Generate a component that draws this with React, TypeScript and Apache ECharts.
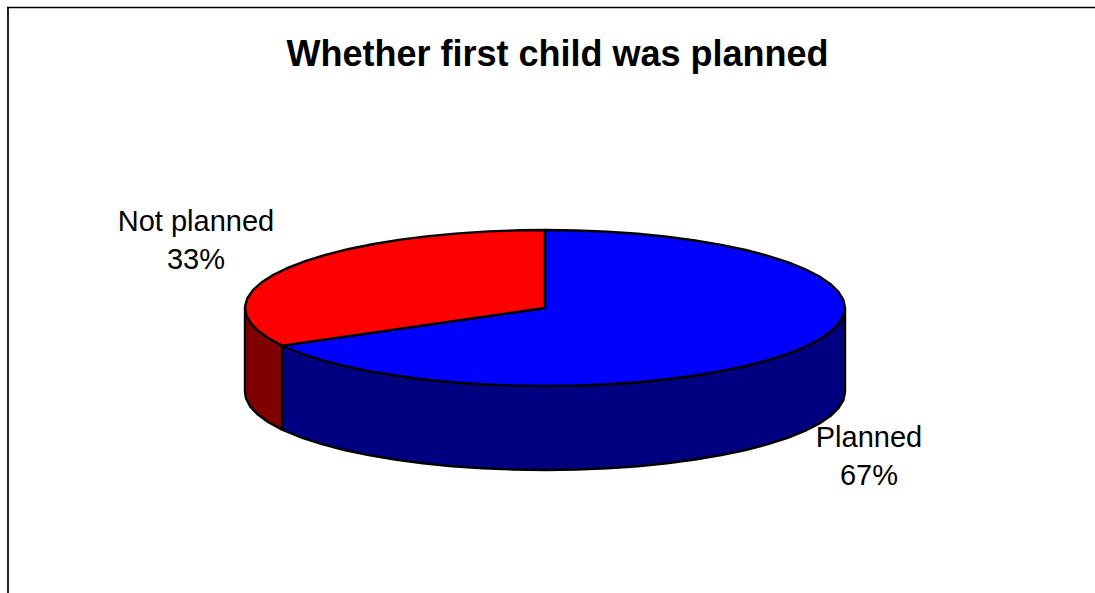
import React, { useEffect, useRef } from "react";
import * as echarts from "echarts";

const titleText = "Whether first child was planned";
const categories = ["Planned", "Not planned"];
const values = [67, 33];
const topColors = ["#0000ff", "#ff0000"];
const sideColors = ["#000080", "#800000"];

const CX = 545, CY = 308, RX = 300, RY = 78, DEPTH = 84;
const LABEL_POS = [[869, 456], [196, 240]];
const STEP = 6;

const pt = (deg: number, dy = 0) => {
  const a = (deg * Math.PI) / 180;
  return [CX + RX * Math.sin(a), CY - RY * Math.cos(a) + dy];
};

const arc = (from: number, to: number, dy = 0) => {
  const pts: number[][] = [];
  for (let d = from; d < to; d += STEP) pts.push(pt(d, dy));
  pts.push(pt(to, dy));
  return pts;
};

const total = values.reduce((a, b) => a + b, 0);

const renderItem = (params: any, api: any) => {
  const i = params.dataIndex;
  let before = 0;
  for (let k = 0; k < i; k++) before += values[k];
  const start = (before / total) * 360;
  const end = ((before + api.value(1)) / total) * 360;
  const children: any[] = [];
  const sFrom = Math.max(start, 90);
  const sTo = Math.min(end, 270);
  if (sTo > sFrom) {
    const rim = arc(sFrom, sTo);
    const low = arc(sFrom, sTo, DEPTH).reverse();
    children.push({
      type: "polygon",
      shape: { points: rim.concat(low) },
      style: { fill: sideColors[i], stroke: "#000", lineWidth: 2.4, lineJoin: "round" },
    });
  }
  children.push({
    type: "polygon",
    shape: { points: [[CX, CY]].concat(arc(start, end)) },
    style: { fill: topColors[i], stroke: "#000", lineWidth: 2.4, lineJoin: "round" },
  });
  const pct = Math.round((api.value(1) / total) * 100);
  children.push({
    type: "text",
    x: LABEL_POS[i][0],
    y: LABEL_POS[i][1],
    style: {
      text: `${categories[i]}\n${pct}%`,
      fontFamily: "Liberation Sans",
      fontSize: 29,
      lineHeight: 38,
      fill: "#000",
      align: "center",
      verticalAlign: "middle",
    },
  });
  return { type: "group", children };
};

export default function App() {
  const ref = useRef<HTMLDivElement>(null);
  useEffect(() => {
    document.body.style.margin = "0";
    const chart = echarts.init(ref.current!, undefined, { renderer: "svg" });
    chart.setOption({
      animation: false,
      backgroundColor: "#fff",
      title: {
        text: titleText,
        left: 552.5,
        top: 30,
        textAlign: "center",
        textStyle: { fontFamily: "Liberation Sans", fontWeight: "bold", fontSize: 36, color: "#000" },
      },
      graphic: [
        { type: "line", shape: { x1: 8, y1: 593, x2: 8, y2: 7 }, style: { stroke: "#222", lineWidth: 2 } },
        { type: "line", shape: { x1: 7, y1: 7.5, x2: 1095, y2: 7.5 }, style: { stroke: "#000", lineWidth: 1.5 } },
      ],
      series: [
        {
          type: "custom",
          coordinateSystem: "none",
          renderItem,
          data: categories.map((c, i) => ({ name: c, value: [i, values[i]] })),
        },
      ],
    });
    return () => chart.dispose();
  }, []);
  return <div ref={ref} style={{ position: "absolute", left: 0, top: 0, width: 1095, height: 593 }} />;
}
